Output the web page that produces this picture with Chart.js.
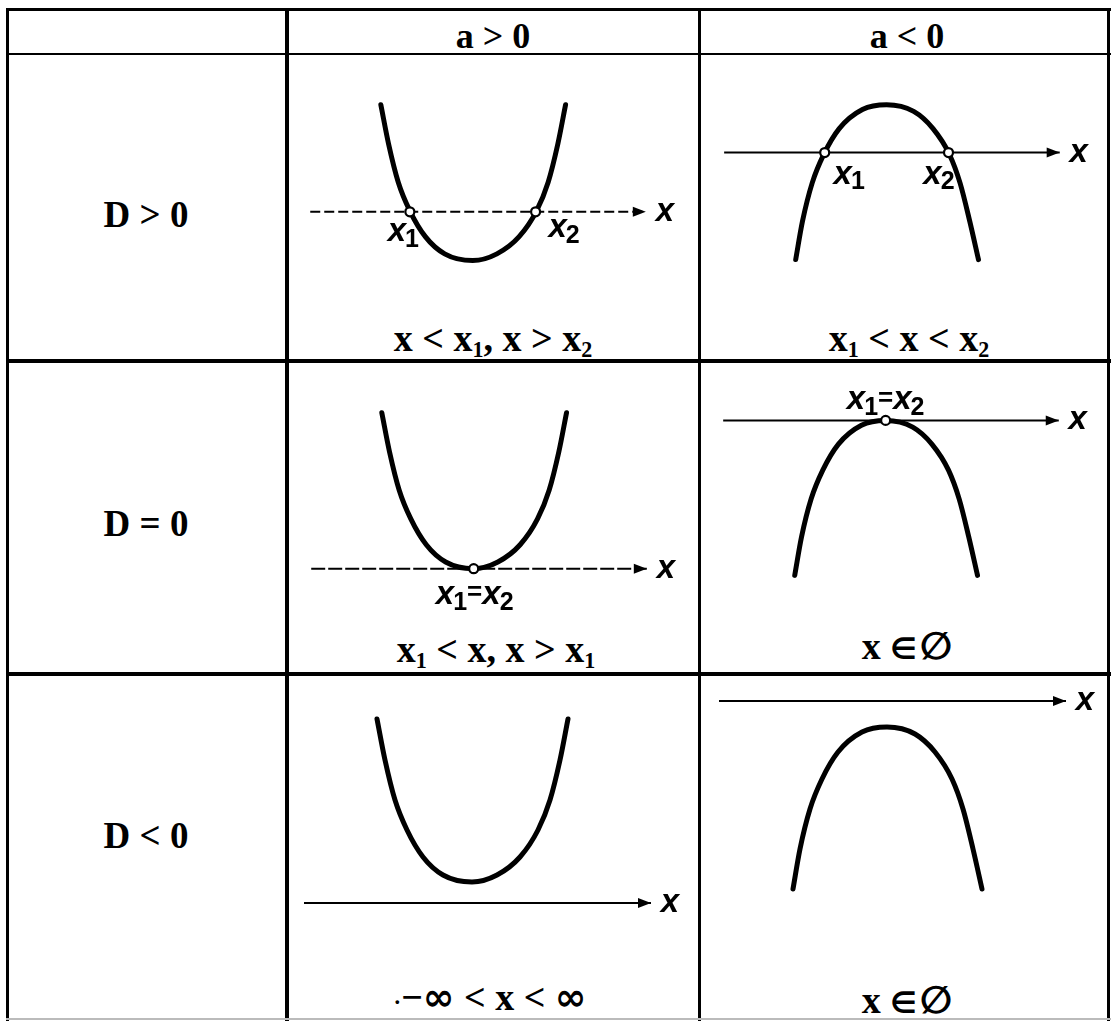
<!DOCTYPE html>
<html>
<head>
<meta charset="utf-8">
<script src="https://cdn.jsdelivr.net/npm/chart.js@4.4.0/dist/chart.umd.min.js"></script>
<style>
  body { margin: 0; background: #fff; }
  #page { position: relative; width: 1111px; height: 1021px; overflow: hidden; background: #fff; }
  .ln { position: absolute; background: #000; }
  .t { position: absolute; transform: translate(-50%, -50%); font-family: "Liberation Serif", "Times New Roman", serif;
       font-weight: bold; white-space: nowrap; color: #000; line-height: 1; }
  .t sub { font-size: 58%; vertical-align: -0.3em; }
  .t .m { font-family: "DejaVu Sans", sans-serif; font-weight: bold; }
  .t .el { font-family: "DejaVu Sans", sans-serif; font-weight: bold; font-size: 78%; margin-right: 3px; }
  .t .em { font-family: "DejaVu Sans", sans-serif; font-weight: bold; font-size: 100%; }
  canvas { position: absolute; }
</style>
</head>
<body>
<div id="page"></div>
<script>
// table texts
const colHeaders = ["a &gt; 0", "a &lt; 0"];
const rowHeaders = ["D &gt; 0", "D = 0", "D &lt; 0"];
const answers = [
  ["x &lt; x<sub>1</sub>, x &gt; x<sub>2</sub>", "x<sub>1</sub> &lt; x &lt; x<sub>2</sub>"],
  ["x<sub>1</sub> &lt; x, x &gt; x<sub>1</sub>", "x <span class=\"el\">&isin;</span><span class=\"em\">&empty;</span>"],
  ["<span style=\"font-size:60%\">&middot;</span>&minus;<span class=\"m\">&infin;</span> &lt; x &lt; <span class=\"m\">&infin;</span>",
   "x <span class=\"el\">&isin;</span><span class=\"em\">&empty;</span>"]
];

// curve shapes (vertex at 0,0)
const upX = [-9.5, -8.7, -7.7, -6.5, -4.9, -2.9, 0, 2.5, 4.8, 6.6, 7.8, 8.8, 9.6];
const upY = [16.3, 12.2, 8.2, 5.2, 2.5, 0.7, 0, 0.7, 2.5, 5.2, 8.2, 12.2, 16.3];
const downX = [-9.4, -8.7, -7.7, -6.5, -4.9, -2.5, 0, 2.8, 4.8, 6.5, 7.6, 8.6, 9.5];
const downY = [-16.2, -12.2, -8.2, -5.2, -2.5, -0.5, 0, -0.7, -2.5, -5.2, -8.2, -12.2, -16.2];

// x axis per row (height relative to the vertex)
const axisX = [-16.8, 17.9];
const axisLevelUp = [5.1, 0, -2.1];
const axisLevelDown = [-5.0, 0, 2.6];
const rootsUp = [[-6.5, 6.5], [0], []];
const rootsDown = [[-6.4, 6.4], [0], []];
const rootNamesUp = [["x1", "x2"], ["x1=x2"], []];
const rootNamesDown = [["x1", "x2"], ["x1=x2"], []];

// layout
const page = document.getElementById("page");
const unit = 10;
const colLeft = [290, 701], colWidth = [408, 407];
const rowTop = [56, 363, 676], rowHeight = [303, 309, 343];
const vertexPos = [[[472, 263], [886, 100]], [[473, 571], [885, 416]], [[472, 882], [887, 727]]];
const labelOffsets = [[[[-13, 20], [22, 16]], [[18, 22], [-16, 22]]], [[[2, 26]], [[1, -20]]], [[], []]];
const axisDash = [[[10, 4], []], [[14, 3], []], [[], []]];

const lines = [
  [6, 8, 1105, 3], [6, 53, 1105, 2], [6, 359, 1105, 4], [6, 672, 1105, 4],
  [6, 8, 3, 1013], [285, 8, 4, 1013], [698, 8, 3, 1013], [1107, 8, 3, 1013]
];
lines.forEach(([l, t, w, h]) => {
  const d = document.createElement("div");
  d.className = "ln";
  d.style.cssText = `left:${l}px;top:${t}px;width:${w}px;height:${h}px`;
  page.appendChild(d);
});
const bottom = document.createElement("div");
bottom.className = "ln";
bottom.style.cssText = "left:6px;top:1018px;width:1105px;height:2px;background:#bbb";
page.appendChild(bottom);

const addText = (html, x, y, size) => {
  const d = document.createElement("div");
  d.className = "t";
  d.innerHTML = html;
  d.style.left = x + "px";
  d.style.top = y + "px";
  d.style.fontSize = size + "px";
  page.appendChild(d);
};
colHeaders.forEach((h, i) => addText(h, [493, 907][i], 36, 36));
rowHeaders.forEach((h, i) => addText(h, 146, [214, 523, 835][i], 37));
const answerPos = [[[493, 340], [909, 340]], [[496, 651], [907, 646]], [[490, 997], [907, 1000]]];
answers.forEach((row, r) => row.forEach((a, c) => addText(a, answerPos[r][c][0], answerPos[r][c][1], 38)));

// "x1", "x1=x2" labels drawn on the canvas
const drawName = (ctx, name, cx, cy) => {
  const parts = [...name].map(ch => {
    if (ch === "x") return { ch, font: 'italic bold 33px "Liberation Sans"', dy: 0 };
    if (ch === "=") return { ch, font: 'bold 26px "Liberation Sans"', dy: -2 };
    return { ch, font: 'bold 25px "Liberation Sans"', dy: 8 };
  });
  let w = 0;
  parts.forEach(p => { ctx.font = p.font; p.w = ctx.measureText(p.ch).width; w += p.w; });
  let x0 = name.length > 2 ? cx - w / 2 : cx - parts[0].w / 2;
  ctx.textAlign = "left";
  ctx.textBaseline = "middle";
  parts.forEach(p => {
    ctx.font = p.font;
    ctx.fillText(p.ch, x0, cy + p.dy);
    x0 += p.w - (p.ch === "x" ? 1 : 0);
  });
};

const decorations = {
  id: "decorations",
  afterDatasetsDraw(chart, args, opts) {
    const { ctx, scales: { x, y } } = chart;
    const tip = x.getPixelForValue(axisX[1]);
    const py = y.getPixelForValue(opts.level);
    ctx.save();
    ctx.fillStyle = "#000";
    ctx.beginPath();
    ctx.moveTo(tip, py);
    ctx.lineTo(tip - 13, py - 5);
    ctx.lineTo(tip - 13, py + 5);
    ctx.closePath();
    ctx.fill();
    ctx.font = 'italic bold 33px "Liberation Sans"';
    ctx.textAlign = "center";
    ctx.textBaseline = "middle";
    ctx.fillText("x", tip + 19, py);
    opts.names.forEach((name, i) => {
      const rx = x.getPixelForValue(opts.roots[i]);
      drawName(ctx, name, rx + opts.offsets[i][0], py + opts.offsets[i][1]);
    });
    ctx.restore();
  }
};

const makeCell = (r, c) => {
  const up = c === 0;
  const xs = up ? upX : downX, ys = up ? upY : downY;
  const level = (up ? axisLevelUp : axisLevelDown)[r];
  const roots = (up ? rootsUp : rootsDown)[r];
  const names = (up ? rootNamesUp : rootNamesDown)[r];
  const [vx, vy] = vertexPos[r][c];
  const left = colLeft[c], top = rowTop[r], w = colWidth[c], h = rowHeight[r];

  const canvas = document.createElement("canvas");
  canvas.width = w;
  canvas.height = h;
  canvas.style.left = left + "px";
  canvas.style.top = top + "px";
  page.appendChild(canvas);

  new Chart(canvas.getContext("2d"), {
    type: "scatter",
    data: {
      datasets: [
        {
          data: roots.map(v => ({ x: v, y: level })),
          pointRadius: 4.5, pointBorderWidth: 2.2,
          pointBackgroundColor: "#fff", pointBorderColor: "#000", showLine: false
        },
        {
          data: xs.map((v, i) => ({ x: v, y: ys[i] })),
          showLine: true, cubicInterpolationMode: "monotone", borderColor: "#000", borderWidth: 5,
          borderCapStyle: "round", pointRadius: 0
        },
        {
          data: axisX.map(v => ({ x: v, y: level })),
          showLine: true, borderColor: "#000", borderWidth: 2,
          borderDash: axisDash[r][c], pointRadius: 0
        }
      ]
    },
    options: {
      responsive: false,
      animation: false,
      layout: { padding: 0 },
      scales: {
        x: { display: false, min: (left - vx) / unit, max: (left + w - vx) / unit },
        y: { display: false, min: -(top + h - vy) / unit, max: (vy - top) / unit }
      },
      plugins: {
        legend: { display: false },
        tooltip: { enabled: false },
        decorations: { level, roots, names, offsets: labelOffsets[r][c] }
      }
    },
    plugins: [decorations]
  });
};

for (let r = 0; r < 3; r++) {
  for (let c = 0; c < 2; c++) makeCell(r, c);
}
</script>
</body>
</html>
